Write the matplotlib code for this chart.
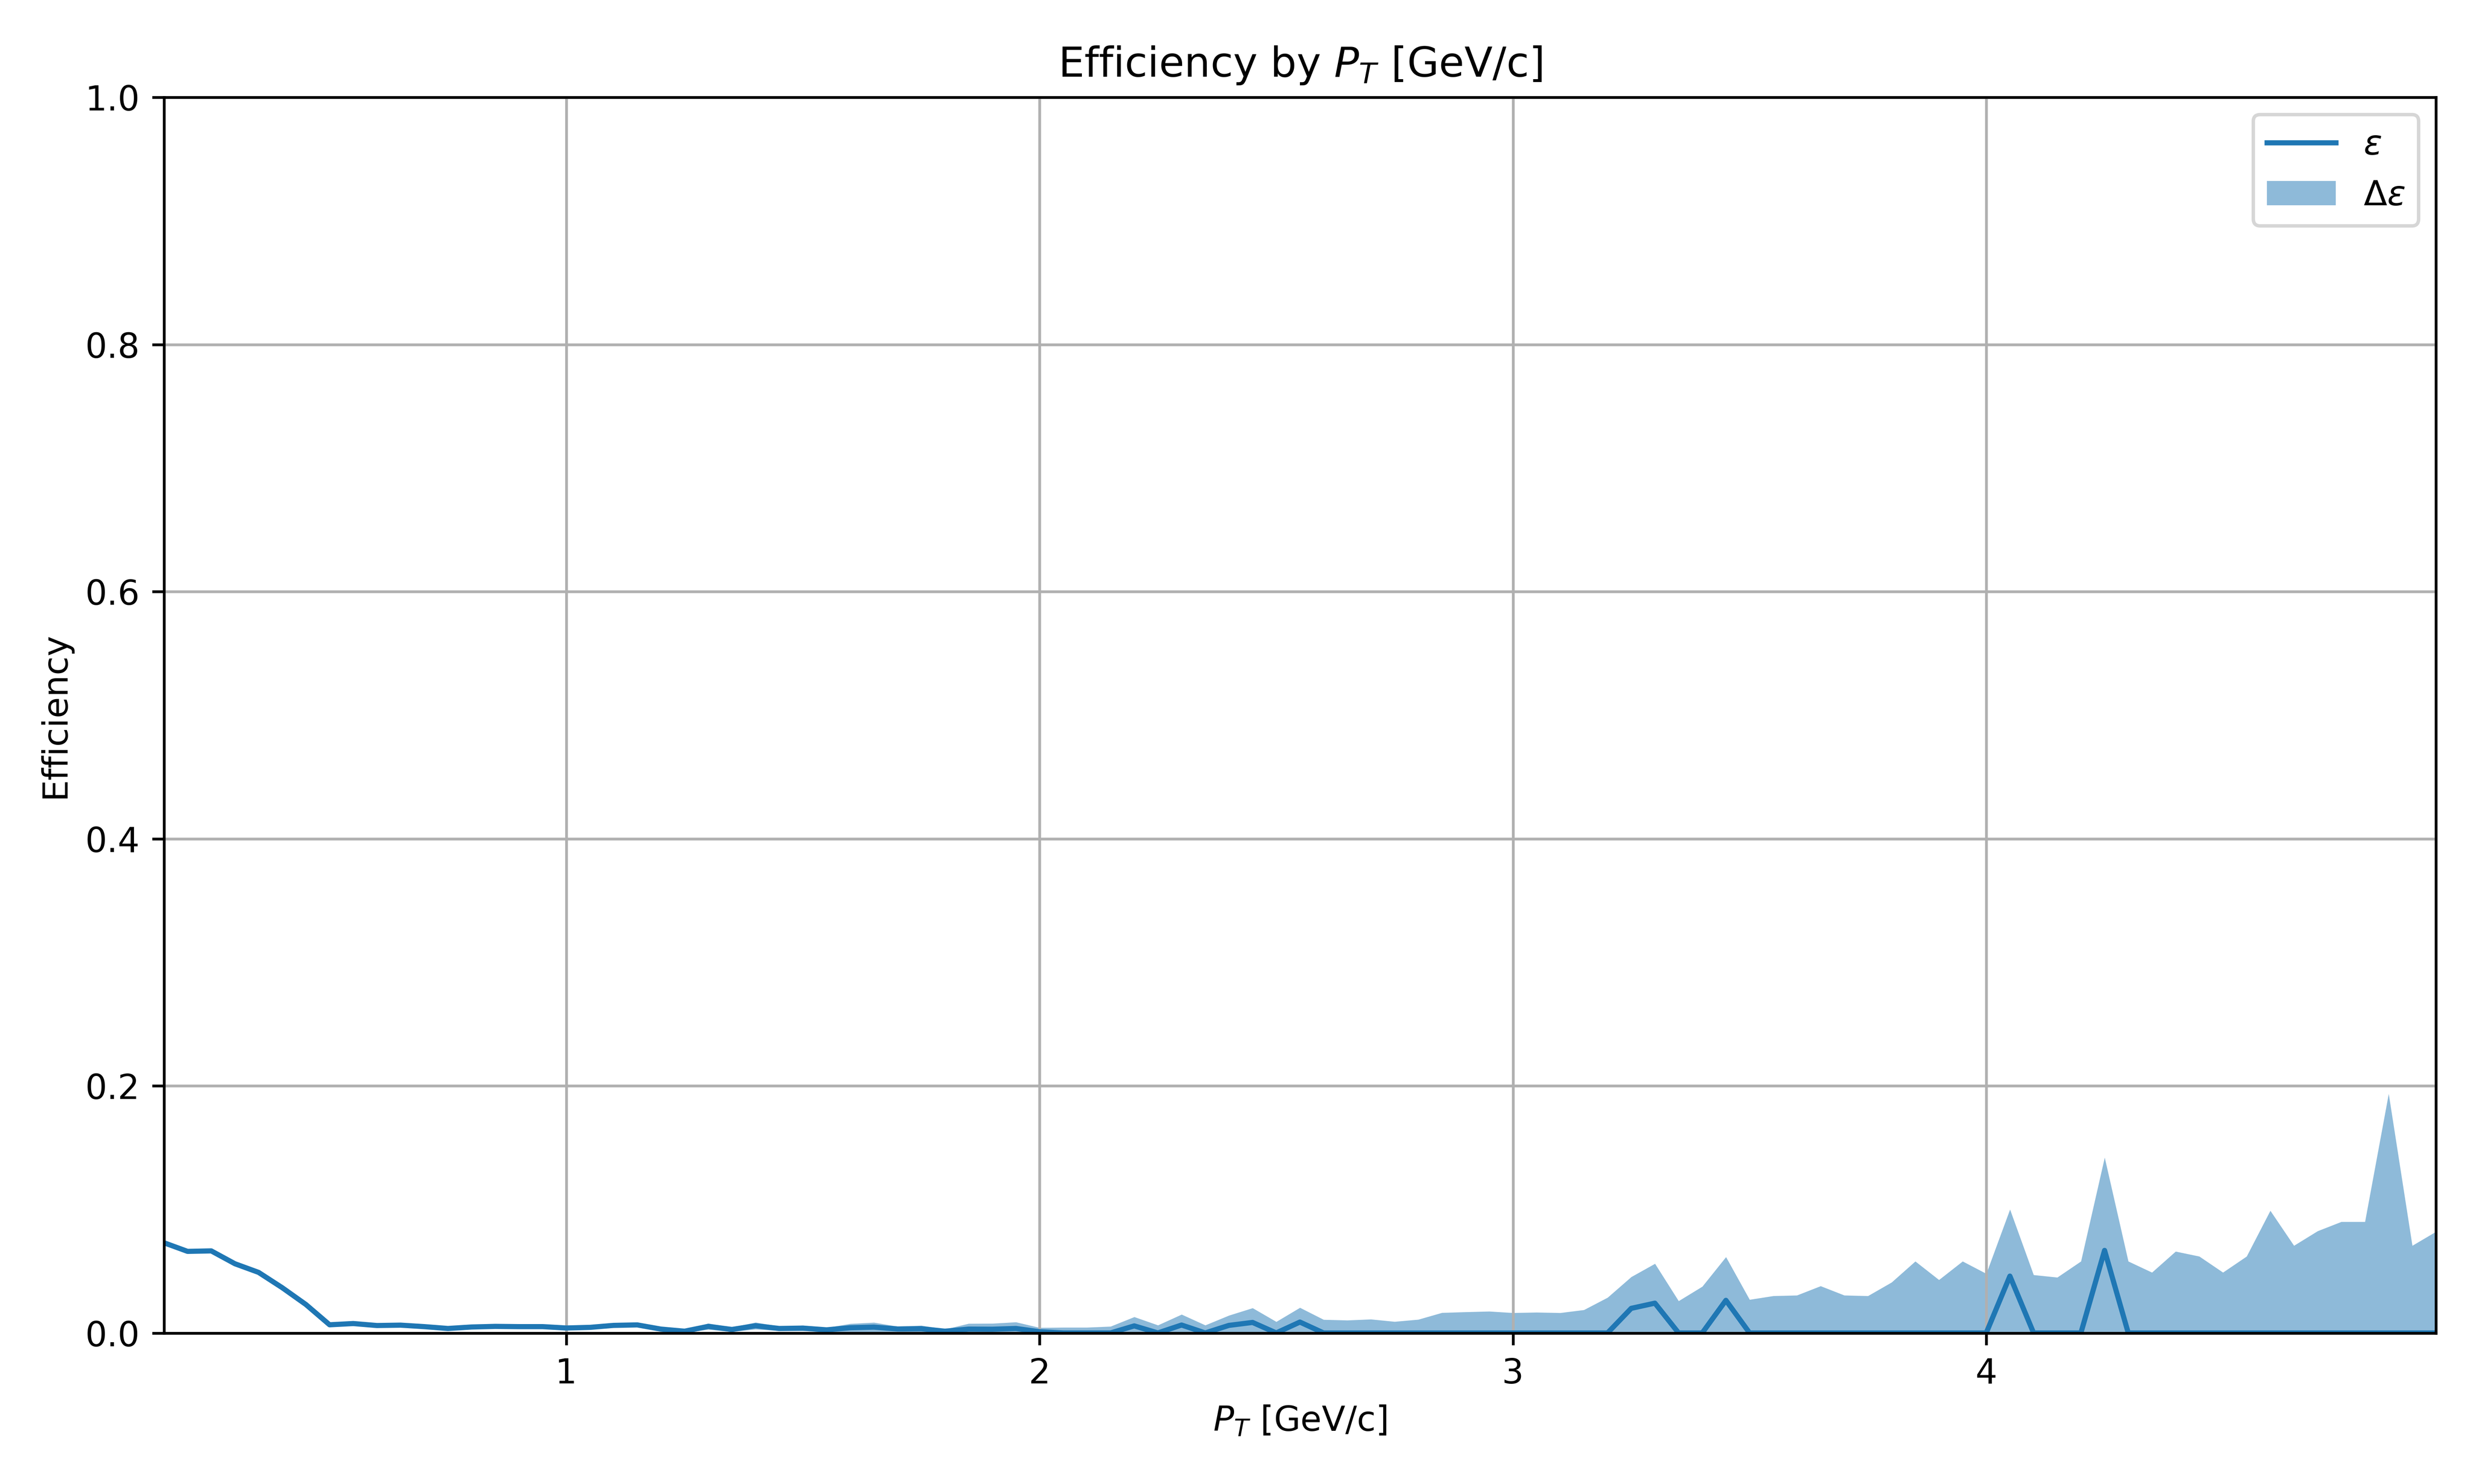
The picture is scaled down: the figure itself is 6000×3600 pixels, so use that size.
import matplotlib
matplotlib.use('Agg')
import matplotlib.pyplot as plt
import numpy as np

# P_T 分箱中心 [GeV/c]
pt = [0.15, 0.20, 0.25, 0.30, 0.35, 0.40, 0.45, 0.50, 0.55, 0.60,
      0.65, 0.70, 0.75, 0.80, 0.85, 0.90, 0.95, 1.00, 1.05, 1.10,
      1.15, 1.20, 1.25, 1.30, 1.35, 1.40, 1.45, 1.50, 1.55, 1.60,
      1.65, 1.70, 1.75, 1.80, 1.85, 1.90, 1.95, 2.00, 2.05, 2.10,
      2.15, 2.20, 2.25, 2.30, 2.35, 2.40, 2.45, 2.50, 2.55, 2.60,
      2.65, 2.70, 2.75, 2.80, 2.85, 2.90, 2.95, 3.00, 3.05, 3.10,
      3.15, 3.20, 3.25, 3.30, 3.35, 3.40, 3.45, 3.50, 3.55, 3.60,
      3.65, 3.70, 3.75, 3.80, 3.85, 3.90, 3.95, 4.00, 4.05, 4.10,
      4.15, 4.20, 4.25, 4.30, 4.35, 4.40, 4.45, 4.50, 4.55, 4.60,
      4.65, 4.70, 4.75, 4.80, 4.85, 4.90, 4.95]

# 效率
eff = [0.073, 0.066, 0.0664, 0.056, 0.049, 0.0366, 0.023, 0.0066, 0.0076, 0.006,
       0.0063, 0.0051, 0.0036, 0.0048, 0.0053, 0.0051, 0.0051, 0.004, 0.0045, 0.0061,
       0.0065, 0.0031, 0.0014, 0.0053, 0.0028, 0.0058, 0.0036, 0.0039, 0.0025, 0.0042,
       0.0047, 0.0032, 0.0034, 0.0014, 0.0031, 0.003, 0.0036, 0.001, 0.0, 0.0,
       0.0, 0.0057, 0.0, 0.0064, 0.0, 0.0061, 0.0085, 0.0, 0.0088, 0.0,
       0.0, 0.0, 0.0, 0.0, 0.0, 0.0, 0.0, 0.0, 0.0, 0.0,
       0.0, 0.0, 0.0199, 0.0241, 0.0, 0.0, 0.0264, 0.0, 0.0, 0.0,
       0.0, 0.0, 0.0, 0.0, 0.0, 0.0, 0.0, 0.0, 0.046, 0.0,
       0.0, 0.0, 0.0668, 0.0, 0.0, 0.0, 0.0, 0.0, 0.0, 0.0,
       0.0, 0.0, 0.0, 0.0, 0.0, 0.0, 0.0]

# 效率误差
eff_err = [0.0015, 0.0015, 0.0015, 0.0015, 0.0015, 0.0015, 0.0015, 0.0012, 0.0012, 0.0012,
           0.0012, 0.0012, 0.001, 0.0012, 0.0012, 0.0012, 0.0012, 0.0012, 0.0014, 0.0015,
           0.0015, 0.0012, 0.001, 0.0025, 0.0018, 0.0028, 0.0018, 0.0022, 0.0018, 0.0033,
           0.0038, 0.0021, 0.0027, 0.0016, 0.0045, 0.0047, 0.0052, 0.0033, 0.0045, 0.0045,
           0.0053, 0.0073, 0.0063, 0.0086, 0.0063, 0.0081, 0.0117, 0.0091, 0.0117, 0.0108,
           0.0103, 0.0111, 0.0092, 0.0109, 0.0164, 0.0170, 0.0175, 0.0163, 0.0167, 0.0163,
           0.0187, 0.0287, 0.0255, 0.032, 0.0259, 0.0376, 0.0351, 0.027, 0.030, 0.0305,
           0.038, 0.0305, 0.030, 0.041, 0.058, 0.043, 0.058, 0.048, 0.054, 0.047,
           0.045, 0.058, 0.0752, 0.058, 0.049, 0.066, 0.062, 0.049, 0.062, 0.099,
           0.0707, 0.0825, 0.090, 0.090, 0.1936, 0.0707, 0.082]

pt = np.array(pt)
eff = np.array(eff)
eff_err = np.array(eff_err)

fig, ax = plt.subplots(figsize=(10, 6))
ax.plot(pt, eff, label=r'$\epsilon$', color='C0', linewidth=1.5)
ax.fill_between(pt, eff - eff_err, eff + eff_err, color='C0', alpha=0.5,
                linewidth=0, label=r'$\Delta\epsilon$')

ax.set_xlim(pt[0], pt[-1])
ax.set_ylim(0, 1)
ax.set_xlabel(r'$P_T$ [GeV/c]')
ax.set_ylabel('Efficiency')
ax.set_title(r'Efficiency by $P_T$ [GeV/c]')
ax.grid(True)
ax.legend(loc='upper right')

plt.tight_layout()
fig.savefig('out.png', dpi=600)
